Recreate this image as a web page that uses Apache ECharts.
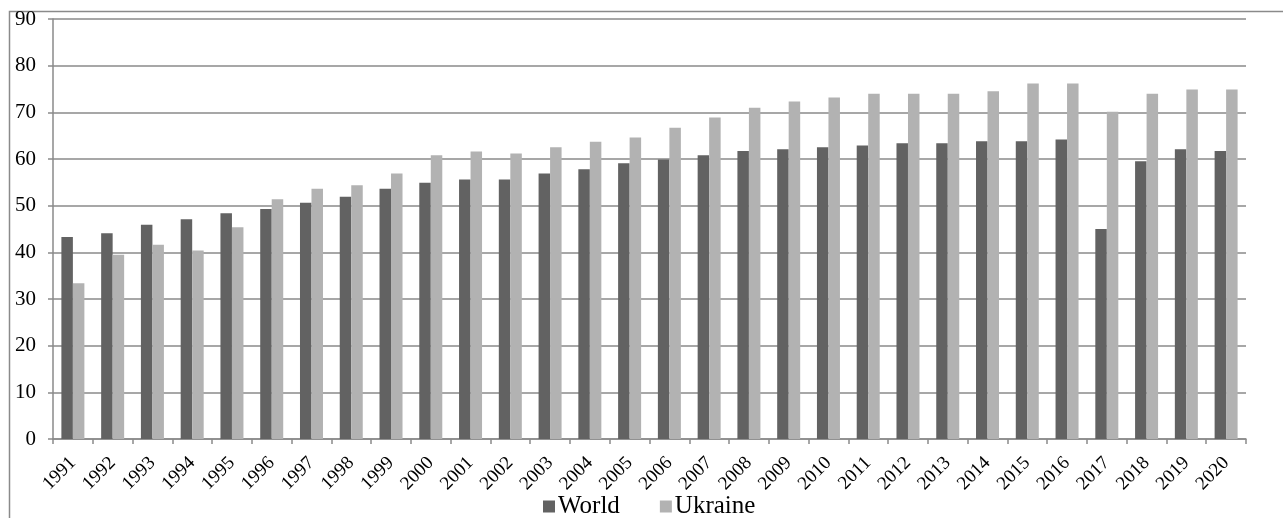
<!DOCTYPE html>
<html>
<head>
<meta charset="utf-8">
<script src="https://cdn.jsdelivr.net/npm/echarts@6/dist/echarts.min.js"></script>
<style>
html,body{margin:0;padding:0;background:#fff;}
#chart{width:1283px;height:518px;}
</style>
</head>
<body>
<div id="chart"></div>
<script>
const years = ['1991','1992','1993','1994','1995','1996','1997','1998','1999','2000',
  '2001','2002','2003','2004','2005','2006','2007','2008','2009','2010',
  '2011','2012','2013','2014','2015','2016','2017','2018','2019','2020'];
const world = [43.3,44.1,45.9,47.1,48.4,49.3,50.6,51.9,53.6,54.9,
  55.6,55.6,56.9,57.8,59.1,59.9,60.8,61.7,62.1,62.5,
  62.9,63.4,63.4,63.8,63.8,64.2,45.0,59.5,62.1,61.7];
const ukraine = [33.4,39.5,41.6,40.4,45.4,51.4,53.6,54.4,56.9,60.8,
  61.6,61.2,62.5,63.7,64.6,66.7,68.9,71.0,72.3,73.2,
  74.0,74.0,74.0,74.5,76.2,76.2,70.1,74.0,74.9,74.9];
const yTicks = {min:0, max:90, interval:10};

const font = '"Liberation Serif","Times New Roman",serif';
const gridColor = '#8a8a8a';
const chart = echarts.init(document.getElementById('chart'), null, {renderer:'canvas'});
chart.setOption({
  animation:false,
  backgroundColor:'#fff',
  graphic:[{
    type:'rect', left:7, top:9, silent:true,
    shape:{x:0,y:0,width:1400,height:700},
    style:{fill:null, stroke:gridColor, lineWidth:1.5}
  }],
  grid:{left:53, top:19, right:37, bottom:79, containLabel:false},
  legend:{
    left:538, top:489,
    itemWidth:12, itemHeight:12, itemGap:40,
    icon:'rect',
    textStyle:{fontFamily:font, fontSize:25, color:'#000', padding:[0,0,0,-2]},
    data:['World','Ukraine']
  },
  xAxis:{
    type:'category', data:years,
    axisLine:{lineStyle:{color:gridColor, width:1.5}},
    axisTick:{show:true, length:5, lineStyle:{color:gridColor, width:1.5}},
    axisLabel:{rotate:45, fontFamily:font, fontSize:19, color:'#000', margin:21, interval:0}
  },
  yAxis:{
    type:'value', min:yTicks.min, max:yTicks.max, interval:yTicks.interval,
    axisLine:{show:true, lineStyle:{color:gridColor, width:1.5}},
    axisTick:{show:true, length:5, lineStyle:{color:gridColor, width:1.5}},
    splitLine:{lineStyle:{color:gridColor, width:1.5}},
    axisLabel:{fontFamily:font, fontSize:21, color:'#000', margin:17}
  },
  series:[
    {name:'World', type:'bar', data:world, barWidth:11.5, barGap:'0%',
      itemStyle:{color:'#626262'}},
    {name:'Ukraine', type:'bar', data:ukraine, barWidth:11.5, barGap:'0%',
      itemStyle:{color:'#b2b2b2'}}
  ]
});
</script>
</body>
</html>
